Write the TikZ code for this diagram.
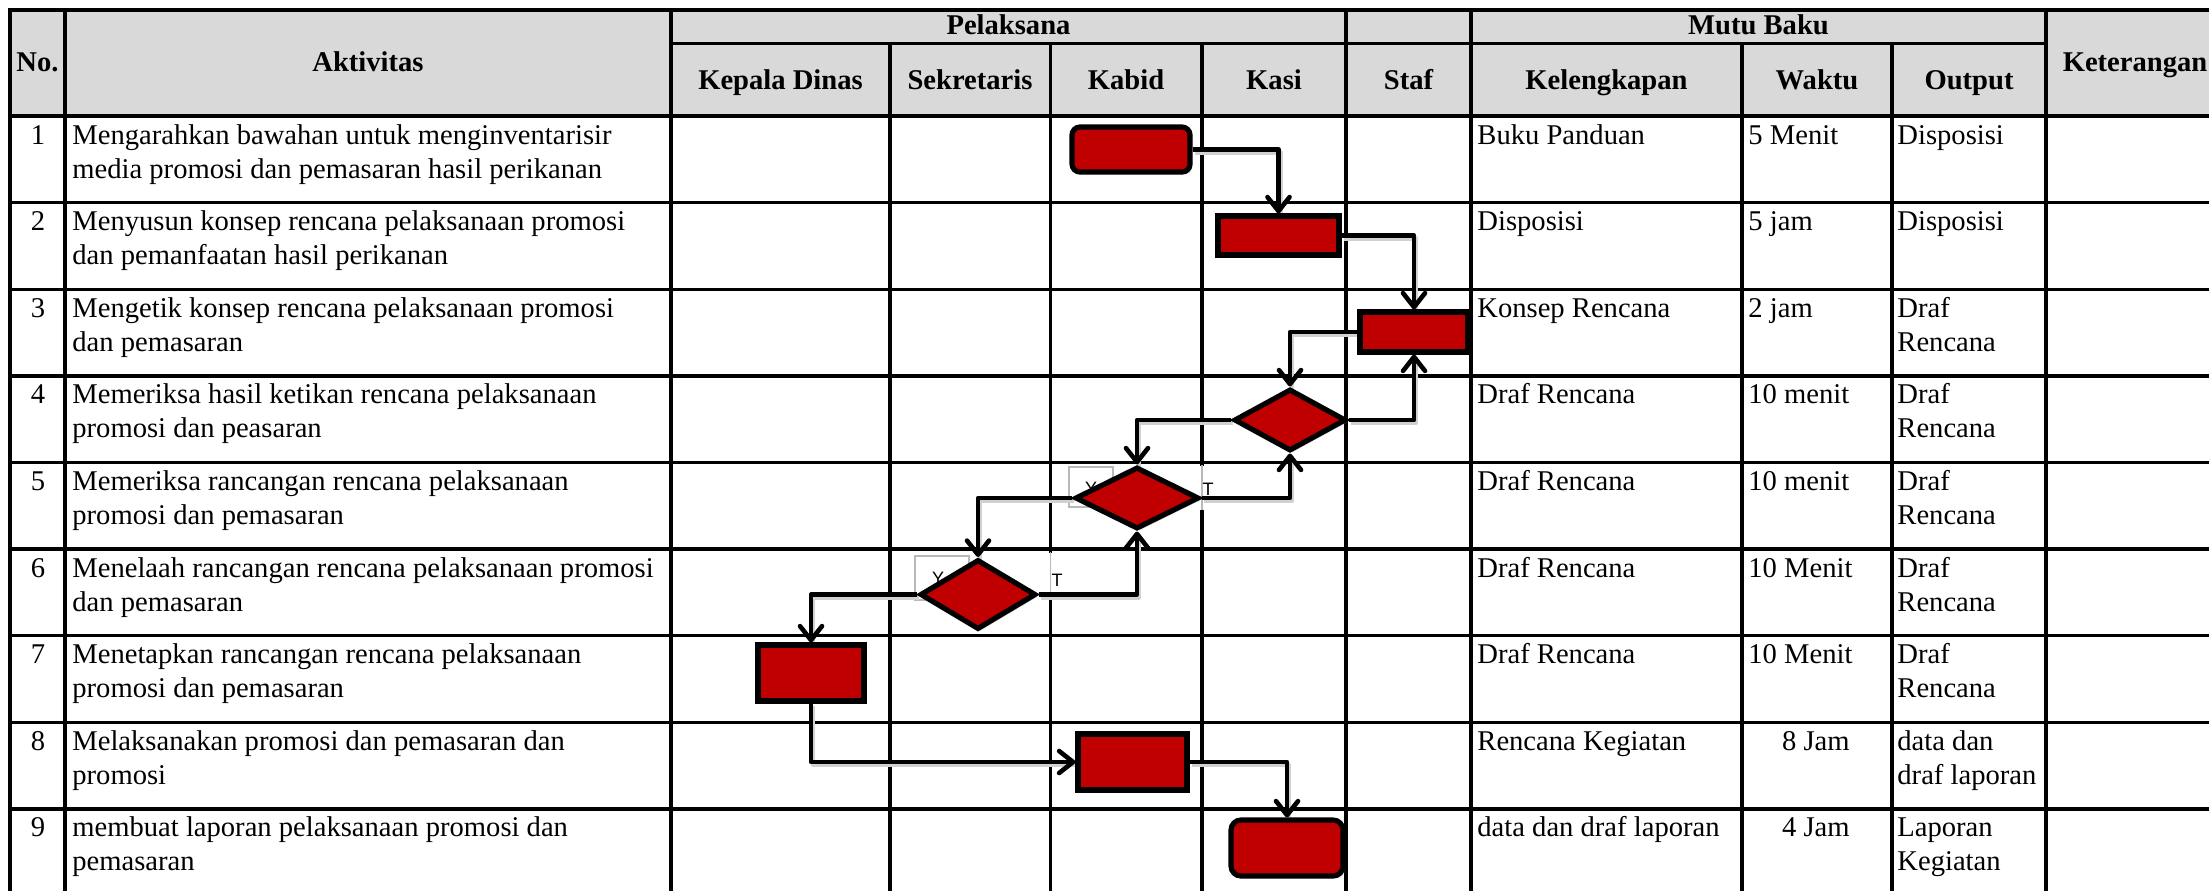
\documentclass[tikz,border=0pt]{standalone}
\usepackage{fontspec}
\setmainfont{Liberation Serif}
\newfontfamily\lblfont{Liberation Sans}
\usetikzlibrary{shapes.geometric,arrows.meta,shadows}
\pgfdeclarelayer{bg}
\pgfdeclarelayer{conn}
\pgfsetlayers{bg,conn,main}
\definecolor{hdrgray}{HTML}{D9D9D9}
\definecolor{boxred}{HTML}{C00000}
\newcommand\rowtexts[7]{%
  \pgfmathsetmacro\rbA{116+86.6*(#1-1)+28}%
  \pgfmathsetmacro\rbB{\rbA+34}%
  \node[body,anchor=base] (no#1) at (38,\rbA) {#2};
  \node[body] (akA#1) at (72,\rbA) {#3};
  \node[body] (akB#1) at (72,\rbB) {#4};
  \node[body] (kel#1) at (1477,\rbA) {#5};
  \node[body] (outA#1) at (1897,\rbA) {#6};
  \node[body] (outB#1) at (1897,\rbB) {#7};
}
\begin{document}
\begin{tikzpicture}[x=0.5pt,y=-0.5pt,
  grid/.style={line width=1.7pt,line cap=rect},
  body/.style={font=\fontsize{14.3}{17}\selectfont, inner sep=0pt, anchor=base west},
  hdr/.style={font=\fontsize{14.3}{17}\selectfont\bfseries, inner sep=0pt, anchor=base},
  lbl/.style={font=\lblfont\fontsize{9}{10}\selectfont, inner sep=0pt},
  lblbox/.style={draw=gray!55, line width=0.6pt},
  connshadow/.style={draw=black!18, line width=2.3pt, line join=round},
  conn/.style={draw=black, line width=2.3pt, line join=round,
    -{Straight Barb[length=7pt,width=11pt,line cap=round,line join=round]}},
  shp/.style={draw=black, fill=boxred, line width=2.6pt, inner sep=0pt,
    drop shadow={shadow xshift=1.2pt, shadow yshift=-1.2pt, opacity=.3}},
  proc/.style={shp, rectangle},
  term/.style={shp, rectangle, rounded corners=4pt},
  dec/.style={shp, diamond}
]
\useasboundingbox (0,0) rectangle (2209,890);

% ---------------- table ----------------
\begin{pgfonlayer}{bg}
\fill[white] (0,0) rectangle (2209,890);
\fill[hdrgray] (10,10) rectangle (2260,116);
\draw[grid] (10,10) -- (2260,10);
\draw[grid] (671,43.3) -- (2046,43.3);
\draw[grid] (10,116) -- (2260,116);
\foreach \k in {1,...,9} {
  \draw[grid] (10,{116+86.6*\k}) -- (2260,{116+86.6*\k});
}
\foreach \xx in {10,65,671,1346,1471,2046} {
  \draw[grid] (\xx,10) -- (\xx,900);
}
\foreach \xx in {890,1050.5,1202,1742,1892} {
  \draw[grid] (\xx,43.3) -- (\xx,900);
}
\end{pgfonlayer}

% ---------------- header ----------------
\node[hdr] (hno) at (37.5,71) {No.};
\node[hdr] (hakt) at (368,71) {Aktivitas};
\node[hdr] (hpel) at (1008.5,34.5) {Pelaksana};
\node[hdr] (hkd) at (780.5,89) {Kepala Dinas};
\node[hdr] (hsek) at (970,89) {Sekretaris};
\node[hdr] (hkab) at (1126,89) {Kabid};
\node[hdr] (hkas) at (1274,89) {Kasi};
\node[hdr] (hstaf) at (1408.5,89) {Staf};
\node[hdr] (hmutu) at (1758.5,34.5) {Mutu Baku};
\node[hdr] (hkel) at (1606.5,89) {Kelengkapan};
\node[hdr] (hwak) at (1817,89) {Waktu};
\node[hdr] (hout) at (1969,89) {Output};
\node[hdr] (hket) at (2135,71) {Keterangan};

% ---------------- body text ----------------
\rowtexts{1}{1}{Mengarahkan bawahan untuk menginventarisir}{media promosi dan pemasaran hasil perikanan}{Buku Panduan}{Disposisi}{}
\rowtexts{2}{2}{Menyusun konsep rencana pelaksanaan promosi}{dan pemanfaatan hasil perikanan}{Disposisi}{Disposisi}{}
\rowtexts{3}{3}{Mengetik konsep rencana pelaksanaan promosi}{dan pemasaran}{Konsep Rencana}{Draf}{Rencana}
\rowtexts{4}{4}{Memeriksa hasil ketikan rencana pelaksanaan}{promosi dan peasaran}{Draf Rencana}{Draf}{Rencana}
\rowtexts{5}{5}{Memeriksa rancangan rencana pelaksanaan}{promosi dan pemasaran}{Draf Rencana}{Draf}{Rencana}
\rowtexts{6}{6}{Menelaah rancangan rencana pelaksanaan promosi}{dan pemasaran}{Draf Rencana}{Draf}{Rencana}
\rowtexts{7}{7}{Menetapkan rancangan rencana pelaksanaan}{promosi dan pemasaran}{Draf Rencana}{Draf}{Rencana}
\rowtexts{8}{8}{Melaksanakan promosi dan pemasaran dan}{promosi}{Rencana Kegiatan}{data dan}{draf laporan}
\rowtexts{9}{9}{membuat laporan pelaksanaan promosi dan}{pemasaran}{data dan draf laporan}{Laporan}{Kegiatan}

\node[body] (wk1) at (1748,144) {5 Menit};
\node[body] (wk2) at (1748,230.6) {5 jam};
\node[body] (wk3) at (1748,317.2) {2 jam};
\node[body] (wk4) at (1748,403.8) {10 menit};
\node[body] (wk5) at (1748,490.4) {10 menit};
\node[body] (wk6) at (1748,577) {10 Menit};
\node[body] (wk7) at (1748,663.6) {10 Menit};
\node[body,anchor=base east] (wk8) at (1850,750.2) {8 Jam};
\node[body,anchor=base east] (wk9) at (1850,836.8) {4 Jam};

% ---------------- Y / T labels ----------------
\begin{pgfonlayer}{conn}
\draw[lblbox] (1069,467) rectangle (1113,507);
\node[lbl] (y5) at (1091,488) {Y};
\fill[white] (1199,466) rectangle (1226,510);
\draw[lblbox] (1202,465) -- (1202,510);
\node[lbl] (t5) at (1208,489) {T};
\draw[lblbox] (915,556) rectangle (969,600);
\node[lbl] (y6) at (938,578) {Y};
\fill[white] (1047,553) rectangle (1072,598);
\draw[lblbox] (1050.5,552) -- (1050.5,598);
\node[lbl] (t6) at (1057,580) {T};
\end{pgfonlayer}

% ---------------- flow shapes ----------------
\node[term, minimum width=59pt, minimum height=22.5pt] (s1) at (1131,149.5) {};
\node[proc, minimum width=60.5pt, minimum height=19.5pt] (s2) at (1278.5,235.5) {};
\node[proc, minimum width=54pt, minimum height=20pt] (s3) at (1414,332) {};
\node[dec, minimum width=56pt, minimum height=31pt] (d4) at (1290,420) {};
\node[dec, minimum width=62pt, minimum height=31pt] (d5) at (1137,498) {};
\node[dec, minimum width=58pt, minimum height=35pt] (d6) at (978,594.5) {};
\node[proc, minimum width=53pt, minimum height=28pt] (s7) at (811,673) {};
\node[proc, minimum width=54.5pt, minimum height=28pt] (s8) at (1132.5,762) {};
\node[term, minimum width=56pt, minimum height=28pt, rounded corners=5pt] (s9) at (1287,848) {};

% ---------------- connectors ----------------
\begin{pgfonlayer}{conn}
\begin{scope}[transform canvas={shift={(1pt,-1.4pt)}}]
\draw[connshadow] (s1.east) -| (s2.north);
\draw[connshadow] (s2.east) -| (s3.north);
\draw[connshadow] (s3.west) -| (d4.north);
\draw[connshadow] (d4.east) -| (s3.south);
\draw[connshadow] (d4.west) -| (d5.north);
\draw[connshadow] (d5.east) -| (d4.south);
\draw[connshadow] (d5.west) -| (d6.north);
\draw[connshadow] (d6.east) -| (d5.south);
\draw[connshadow] (d6.west) -| (s7.north);
\draw[connshadow] (s7.south) |- (s8.west);
\draw[connshadow] (s8.east) -| (s9.north);
\end{scope}
\draw[conn] (s1.east) -| (s2.north);
\draw[conn] (s2.east) -| (s3.north);
\draw[conn] (s3.west) -| (d4.north);
\draw[conn] (d4.east) -| (s3.south);
\draw[conn] (d4.west) -| (d5.north);
\draw[conn] (d5.east) -| (d4.south);
\draw[conn] (d5.west) -| (d6.north);
\draw[conn] (d6.east) -| (d5.south);
\draw[conn] (d6.west) -| (s7.north);
\draw[conn] (s7.south) |- (s8.west);
\draw[conn] (s8.east) -| (s9.north);
\end{pgfonlayer}
\end{tikzpicture}
\end{document}
